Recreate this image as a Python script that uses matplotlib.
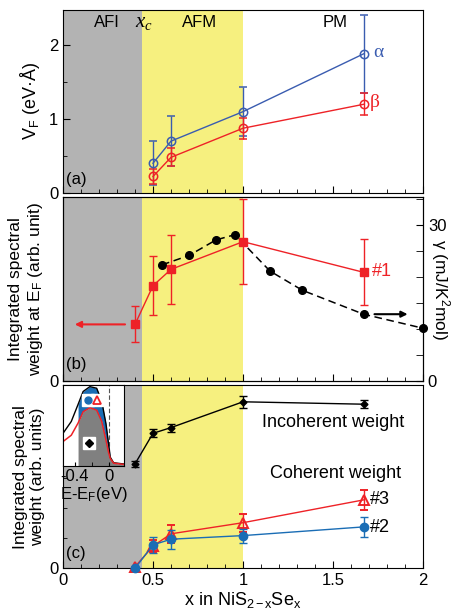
import matplotlib
matplotlib.use("Agg")
import numpy as np
import matplotlib.pyplot as plt
from matplotlib.ticker import MultipleLocator

plt.rcParams["font.family"] = ["Liberation Sans", "DejaVu Sans"]
plt.rcParams["font.size"] = 12
plt.rcParams["mathtext.default"] = "regular"
plt.rcParams["mathtext.fontset"] = "custom"
plt.rcParams["mathtext.it"] = "Liberation Serif:italic"
plt.rcParams["mathtext.rm"] = "Liberation Sans"

GRAY = "#b3b3b3"
YELLOW = "#f6f07f"
RED = "#ee2227"
BLUE_A = "#3a5cb0"
BLUE_C = "#1a6db5"

# phase regions
x_afi_end = 0.44
x_afm_end = 1.0

# (a) Fermi velocity
x_a = [0.5, 0.6, 1.0, 1.67]
v_alpha = [0.40, 0.70, 1.10, 1.885]
v_alpha_err = [0.30, 0.34, 0.33, 0.53]
v_beta = [0.22, 0.48, 0.875, 1.20]
v_beta_err = [0.10, 0.12, 0.14, 0.15]

# (b) weight at E_F and specific heat coefficient
x_b = [0.4, 0.5, 0.6, 1.0, 1.67]
w_ef = [0.307, 0.518, 0.607, 0.758, 0.591]
w_ef_err = [0.098, 0.16, 0.187, 0.232, 0.18]
x_gamma = [0.55, 0.7, 0.85, 0.955, 1.15, 1.33, 1.67, 2.0]
gamma = [22.3, 24.1, 27.1, 28.1, 21.1, 17.4, 12.8, 10.1]

# (c) incoherent / coherent weight
x_w = [0.4, 0.5, 0.6, 1.0, 1.67]
incoh = [3.48, 4.50, 4.69, 5.55, 5.47]
incoh_err = [0.09, 0.13, 0.13, 0.19, 0.13]
coh3 = [0.05, 0.74, 1.15, 1.52, 2.28]
coh3_err = [0.0, 0.20, 0.29, 0.30, 0.33]
coh2 = [0.0, 0.78, 0.97, 1.09, 1.38]
coh2_err = [0.0, 0.28, 0.31, 0.23, 0.33]

# inset spectra
e_in = [-0.54, -0.44, -0.36, -0.30, -0.22, -0.14, -0.08, -0.03, 0.0, 0.02, 0.06, 0.18]
spec_black = [0.40, 0.55, 0.76, 0.92, 0.98, 0.96, 0.80, 0.52, 0.28, 0.11, 0.04, 0.025]
spec_red = [0.30, 0.38, 0.53, 0.67, 0.72, 0.69, 0.55, 0.32, 0.17, 0.095, 0.035, 0.02]

W, H = 453, 610
fig = plt.figure(figsize=(W / 100, H / 100), dpi=100)


def box(left, top, right, bottom):
    return [left / W, 1 - bottom / H, (right - left) / W, (bottom - top) / H]


ax_a = fig.add_axes(box(63, 10, 423, 192.7))
ax_b = fig.add_axes(box(63, 197.3, 423, 380.7))
ax_c = fig.add_axes(box(63, 385, 423, 568.3))
ax_b2 = ax_b.twinx()
ax_b.set_zorder(1)
ax_b2.set_zorder(0)
ax_b.patch.set_visible(False)

for ax in (ax_a, ax_b2, ax_c):
    ax.axvspan(0, x_afi_end, color=GRAY, lw=0, zorder=0)
    ax.axvspan(x_afi_end, x_afm_end, color=YELLOW, lw=0, zorder=0)

for ax in (ax_a, ax_b, ax_c):
    ax.set_xlim(0, 2)
    ax.xaxis.set_major_locator(MultipleLocator(0.5))
    ax.xaxis.set_minor_locator(MultipleLocator(0.1))
    ax.tick_params(which="both", direction="in", top=False, right=False)
    ax.tick_params(which="major", length=5)
    ax.tick_params(which="minor", length=3)
    if ax is not ax_c:
        ax.tick_params(labelbottom=False)

ekw = dict(capsize=2.7, elinewidth=1, capthick=1, lw=1)

# (a)
ax_a.errorbar(x_a, v_alpha, yerr=v_alpha_err, color=BLUE_A, marker="o", ms=6,
              mfc="none", mew=1.1, **ekw)
ax_a.errorbar(x_a, v_beta, yerr=v_beta_err, color=RED, marker="o", ms=6,
              mfc="none", mew=1.1, **ekw)
ax_a.set_ylim(0, 2.48)
ax_a.yaxis.set_major_locator(MultipleLocator(1))
ax_a.yaxis.set_minor_locator(MultipleLocator(0.5))
ax_a.set_ylabel("V$_{\\mathregular{F}}$ (eV·Å)", fontsize=13)
ax_a.yaxis.set_label_coords(-0.058, 0.5)
ax_a.text(0.121, 0.929, "AFI", transform=ax_a.transAxes, ha="center", va="center")
ax_a.text(0.225, 0.925, r"$\mathit{x}_{\mathit{c}}$", transform=ax_a.transAxes,
          ha="center", va="center", fontsize=15)
ax_a.text(0.378, 0.929, "AFM", transform=ax_a.transAxes, ha="center", va="center")
ax_a.text(0.756, 0.929, "PM", transform=ax_a.transAxes, ha="center", va="center")
ax_a.text(0.875, 0.77, "α", transform=ax_a.transAxes, ha="center", va="center",
          color=BLUE_A, family="Liberation Serif", fontsize=14)
ax_a.text(0.867, 0.491, "β", transform=ax_a.transAxes, ha="center", va="center",
          color=RED, family="Liberation Serif", fontsize=14)
ax_a.text(0.036, 0.07, "(a)", transform=ax_a.transAxes, ha="center", va="center")

# (b)
ax_b2.plot(x_gamma, gamma, color="black", ls=(0, (5, 3)), lw=1.1, marker="o", ms=5.5,
           clip_on=False)
ax_b2.set_ylim(0, 35.3)
ax_b2.yaxis.set_major_locator(MultipleLocator(30))
ax_b2.yaxis.set_minor_locator(MultipleLocator(5))
ax_b2.tick_params(which="both", direction="in", length=5)
ax_b2.set_ylabel("γ (mJ/K$^{\\mathregular{2}}$mol)", rotation=270, va="center",
                 fontsize=12.5)
ax_b2.yaxis.set_label_coords(1.048, 0.5)
ax_b2.annotate("", xy=(1.93, gamma[-2]), xytext=(1.715, gamma[-2]),
               arrowprops=dict(arrowstyle="-|>", color="black", lw=1.5, mutation_scale=9))

ax_b.errorbar(x_b, w_ef, yerr=w_ef_err, color=RED, marker="s", ms=5.5, zorder=4, **ekw)
ax_b.set_ylim(0, 1)
ax_b.set_yticks([0])
ax_b.set_ylabel("Integrated spectral\nweight at E$_{\\mathregular{F}}$ (arb. unit)",
                linespacing=1.2, fontsize=12.5)
ax_b.yaxis.set_label_coords(-0.05, 0.5)
ax_b.annotate("", xy=(0.05, w_ef[0]), xytext=(0.36, w_ef[0]),
              arrowprops=dict(arrowstyle="-|>", color=RED, lw=1.5, mutation_scale=9))
ax_b.text(0.857, 0.594, "#1", transform=ax_b.transAxes, ha="left", va="center",
          color=RED, fontsize=13)
ax_b.text(0.036, 0.086, "(b)", transform=ax_b.transAxes, ha="center", va="center")

# (c)
ax_c.errorbar(x_w, incoh, yerr=incoh_err, color="black", marker="D", ms=3.5, **ekw)
ax_c.errorbar(x_w, coh3, yerr=coh3_err, color=RED, marker="^", ms=7, mfc="none",
              mew=1.4, zorder=3, clip_on=False, **ekw)
ax_c.errorbar(x_w, coh2, yerr=coh2_err, color=BLUE_C, marker="o", ms=6, zorder=4,
              clip_on=False, **ekw)
ax_c.set_ylim(0, 6.11)
ax_c.set_yticks([0])
ax_c.yaxis.set_minor_locator(MultipleLocator(1))
ax_c.set_ylabel("Integrated spectral\nweight (arb. units)", linespacing=1.2,
                fontsize=12.5)
ax_c.yaxis.set_label_coords(-0.05, 0.5)
ax_c.set_xticks([0, 0.5, 1, 1.5, 2], ["0", "0.5", "1", "1.5", "2"])
ax_c.set_xlabel("x in NiS$_{\\mathregular{2-x}}$Se$_{\\mathregular{x}}$", labelpad=1,
                fontsize=13)
ax_c.text(0.552, 0.794, "Incoherent weight", transform=ax_c.transAxes, ha="left",
          va="center", fontsize=13)
ax_c.text(0.575, 0.518, "Coherent weight", transform=ax_c.transAxes, ha="left",
          va="center", fontsize=13)
ax_c.text(0.853, 0.376, "#3", transform=ax_c.transAxes, ha="left", va="center", fontsize=13)
ax_c.text(0.853, 0.221, "#2", transform=ax_c.transAxes, ha="left", va="center", fontsize=13)
ax_c.text(0.036, 0.082, "(c)", transform=ax_c.transAxes, ha="center", va="center")

# inset
ax_in = fig.add_axes(box(63, 385, 124, 466))
ax_in.set_zorder(2)
ax_in.set_facecolor("white")
e = np.array(e_in)
sb = np.array(spec_black)
sr = np.array(spec_red)
edge = e >= -0.36
ax_in.axvline(0, color="#555555", ls=(0, (4, 2)), lw=0.8, zorder=0)
ax_in.fill_between(e, sr, sb, where=edge, color=BLUE_C, lw=0, zorder=1)
ax_in.fill_between(e, 0, sr, where=edge, color="#808080", lw=0, zorder=1)
ax_in.plot(e, sb, color="black", lw=1, zorder=2)
ax_in.plot(e, sr, color=RED, lw=1.1, zorder=2)
ax_in.plot([-0.24, -0.14], [0.81, 0.81], ls="none", marker="s", ms=9, color="white",
           zorder=3)
ax_in.plot([-0.24], [0.81], ls="none", marker="o", ms=5, color=BLUE_C, zorder=4)
ax_in.plot([-0.14], [0.81], ls="none", marker="^", ms=5.5, mfc="none", mew=1.3,
           color=RED, zorder=4)
ax_in.plot([-0.227], [0.28], ls="none", marker="s", ms=9, color="white", zorder=3)
ax_in.plot([-0.227], [0.28], ls="none", marker="D", ms=4, color="black", zorder=4)
ax_in.set_xlim(-0.538, 0.183)
ax_in.set_ylim(0, 1)
ax_in.set_yticks([])
ax_in.set_xticks([-0.4, 0], ["-0.4", "0"])
ax_in.xaxis.set_minor_locator(MultipleLocator(0.2))
ax_in.tick_params(which="both", direction="in", length=3, pad=2)
ax_in.set_xlabel("E-E$_{\\mathregular{F}}$(eV)", labelpad=1)

fig.savefig("out.png", dpi=100)
